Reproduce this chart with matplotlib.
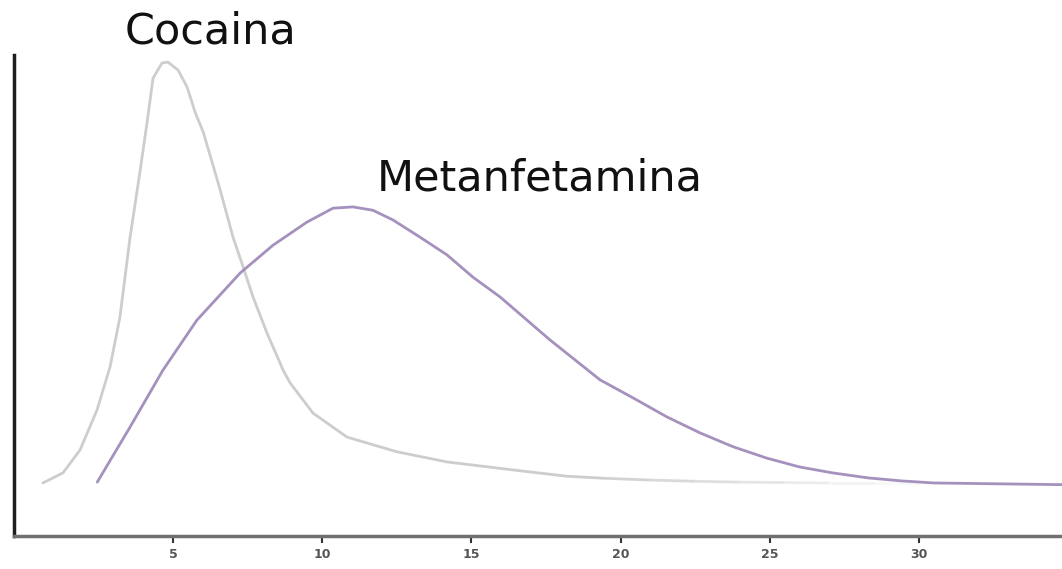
import numpy as np
import matplotlib
matplotlib.use("Agg")
import matplotlib.pyplot as plt
from matplotlib.collections import LineCollection

# curve values (x in units of the axis, y relative to cocaine peak)
coca_x = [0.64, 1.31, 1.88, 2.45, 2.89, 3.22, 3.56, 3.89, 4.13, 4.33, 4.63, 4.83,
          5.17, 5.47, 5.74, 6.01, 6.31, 6.58, 7.01, 7.35, 7.68, 8.15, 8.69, 8.92,
          9.69, 10.83, 12.51, 14.18, 16.39, 18.2]
coca_y = [0.0, 0.024, 0.078, 0.173, 0.276, 0.394, 0.584, 0.739, 0.857, 0.962, 0.998, 1.0,
          0.981, 0.941, 0.881, 0.834, 0.762, 0.696, 0.584, 0.513, 0.442, 0.356, 0.268, 0.238,
          0.166, 0.109, 0.074, 0.050, 0.031, 0.016]
# faded tail of the cocaine curve
coca_tail_x = [18.2, 19.5, 21.0, 22.5, 24.0, 25.5, 27.0, 28.5, 30.0, 31.5]
coca_tail_y = [0.016, 0.011, 0.007, 0.004, 0.002, 0.001, 0.0, 0.0, 0.0, 0.0]

meta_x = [2.46, 3.56, 4.66, 5.80, 7.25, 8.35, 9.49, 10.36, 11.03, 11.70, 12.37, 13.28,
          14.18, 15.05, 15.96, 17.63, 19.31, 20.42, 21.55, 22.66, 23.77, 24.9, 26.0,
          27.1, 28.3, 29.4, 30.5, 34.8]
meta_y = [0.002, 0.133, 0.268, 0.387, 0.499, 0.565, 0.620, 0.653, 0.656, 0.648, 0.625, 0.584,
          0.542, 0.489, 0.442, 0.340, 0.245, 0.202, 0.157, 0.119, 0.086, 0.059, 0.038,
          0.024, 0.012, 0.005, 0.0, -0.004]

ticks = [5, 10, 15, 20, 25, 30]
labels = ["Cocaina", "Metanfetamina"]

gray = "#cdcdcd"
purple = "#a591bd"

fig = plt.figure(figsize=(10.62, 5.69), dpi=100)
ax = fig.add_axes([14/1062, 33/569, 1 - 14/1062, 481/569])

ax.plot(coca_x, coca_y, color=gray, lw=2.0, solid_capstyle="round",
        solid_joinstyle="round")
pts = np.column_stack([coca_tail_x, coca_tail_y])
segs = np.stack([pts[:-1], pts[1:]], axis=1)
alphas = np.linspace(1.0, 0.0, len(segs))
cols = [matplotlib.colors.to_rgba(gray, a) for a in alphas]
ax.add_collection(LineCollection(segs, colors=cols, linewidths=2.0))

ax.plot(meta_x, meta_y, color=purple, lw=2.0, solid_capstyle="round",
        solid_joinstyle="round")

ax.text(6.27, 1.045, labels[0], fontsize=31, ha="center", va="baseline",
        color="#111111", clip_on=False)
ax.text(17.3, 0.696, labels[1], fontsize=31, ha="center", va="baseline",
        color="#111111", clip_on=False)

ax.set_xlim(-0.33, 34.79)
ax.set_ylim(-0.126, 1.017)

for s in ["top", "right"]:
    ax.spines[s].set_visible(False)
ax.spines["left"].set_color("#1e1e1e")
ax.spines["left"].set_linewidth(2.5)
ax.spines["bottom"].set_color("#707070")
ax.spines["bottom"].set_linewidth(2.5)

ax.set_yticks([])
ax.set_xticks(ticks)
ax.set_xticklabels([str(t) for t in ticks], fontsize=9, fontweight="bold",
                   color="#555555")
ax.tick_params(axis="x", direction="out", length=5, width=1.5, color="#333333",
               pad=4)

fig.savefig("out.png", dpi=100)
